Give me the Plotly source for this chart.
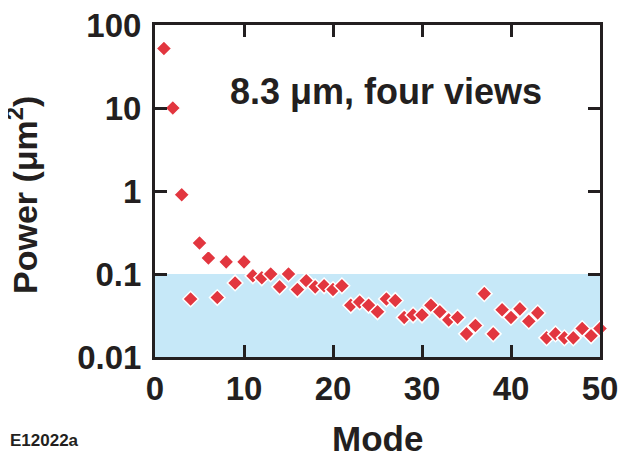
import plotly.graph_objects as go

modes = list(range(1, 51))
power = [52, 10, 0.9, 0.05, 0.236, 0.156, 0.052, 0.14, 0.078, 0.14,
         0.095, 0.09, 0.1, 0.07, 0.1, 0.065, 0.083, 0.07, 0.072, 0.065,
         0.072, 0.042, 0.046, 0.042, 0.035, 0.05, 0.048, 0.03, 0.032, 0.032,
         0.042, 0.035, 0.028, 0.03, 0.019, 0.024, 0.058, 0.019, 0.037, 0.03,
         0.038, 0.027, 0.034, 0.017, 0.019, 0.017, 0.017, 0.022, 0.018, 0.022]
band_low, band_high = 0.01, 0.1
x_ticks = [0, 10, 20, 30, 40, 50]
y_ticks = [0.01, 0.1, 1, 10, 100]
y_ticktext = ["0.01", "0.1", "1", "10", "100"]

FONT = "Liberation Sans, Arial, Helvetica, sans-serif"
DARK = "#231f20"

# page has an 8px body margin; figure sized to fit the window
OFF = 8
W, H = 626 - OFF, 456 - OFF
L, R, T, B = 155 - OFF, 26, 25 - OFF, 99
PW, PH = W - L - R, H - T - B


def px(page_x):
    return (page_x - OFF - L) / PW


def py(page_y):
    return ((H - B) - (page_y - OFF)) / PH


fig = go.Figure()
fig.add_shape(type="rect", xref="x", yref="y", x0=0, x1=50, y0=band_low, y1=band_high,
              fillcolor="#c6e8f8", line_width=0, layer="below")
fig.add_trace(go.Scatter(
    x=modes, y=power, mode="markers",
    marker=dict(symbol="diamond", size=12, color="#e2363f",
                line=dict(color="white", width=1.5)),
    showlegend=False, cliponaxis=False))

tickfont = dict(size=33, family=FONT, weight="bold", color=DARK)
fig.update_layout(
    width=W, height=H,
    margin=dict(l=L, r=R, t=T, b=B, autoexpand=False),
    paper_bgcolor="white", plot_bgcolor="white",
    font=dict(family=FONT, color=DARK),
    xaxis=dict(range=[0, 50], tickvals=x_ticks, ticks="inside", ticklen=12, tickwidth=3,
               tickcolor=DARK, showline=True, linecolor=DARK, linewidth=3, mirror="ticks",
               showgrid=False, zeroline=False, tickfont=tickfont, ticklabelstandoff=0,
               ticklabeloverflow="allow", automargin=False),
    yaxis=dict(type="log", range=[-2, 2], tickvals=y_ticks, ticktext=y_ticktext,
               ticks="inside", ticklen=12, tickwidth=3, tickcolor=DARK,
               showline=True, linecolor=DARK, linewidth=3, mirror="ticks",
               showgrid=False, zeroline=False, tickfont=tickfont, ticklabelstandoff=4,
               ticklabeloverflow="allow", automargin=False),
    annotations=[
        dict(text="<b>8.3 μm, four views</b>", x=px(386), y=py(92), xref="paper", yref="paper",
             xanchor="center", yanchor="middle",
             showarrow=False, font=dict(size=36, color=DARK)),
        dict(text="<b>Mode</b>", x=px(377), y=py(438), xref="paper", yref="paper",
             xanchor="center", yanchor="middle", borderpad=0,
             showarrow=False, font=dict(size=35, color=DARK)),
        dict(text="<b>Power (μm<sup>2</sup>)</b>", x=px(23), y=py(195), xref="paper", yref="paper",
             xanchor="center", yanchor="middle", borderpad=0,
             showarrow=False, textangle=-90, font=dict(size=34, color=DARK)),
        dict(text="<b>E12022a</b>", x=px(8), y=py(440), xref="paper", yref="paper",
             xanchor="left", yanchor="middle", showarrow=False, font=dict(size=17, color=DARK)),
    ],
)

fig.write_html("out.html")
